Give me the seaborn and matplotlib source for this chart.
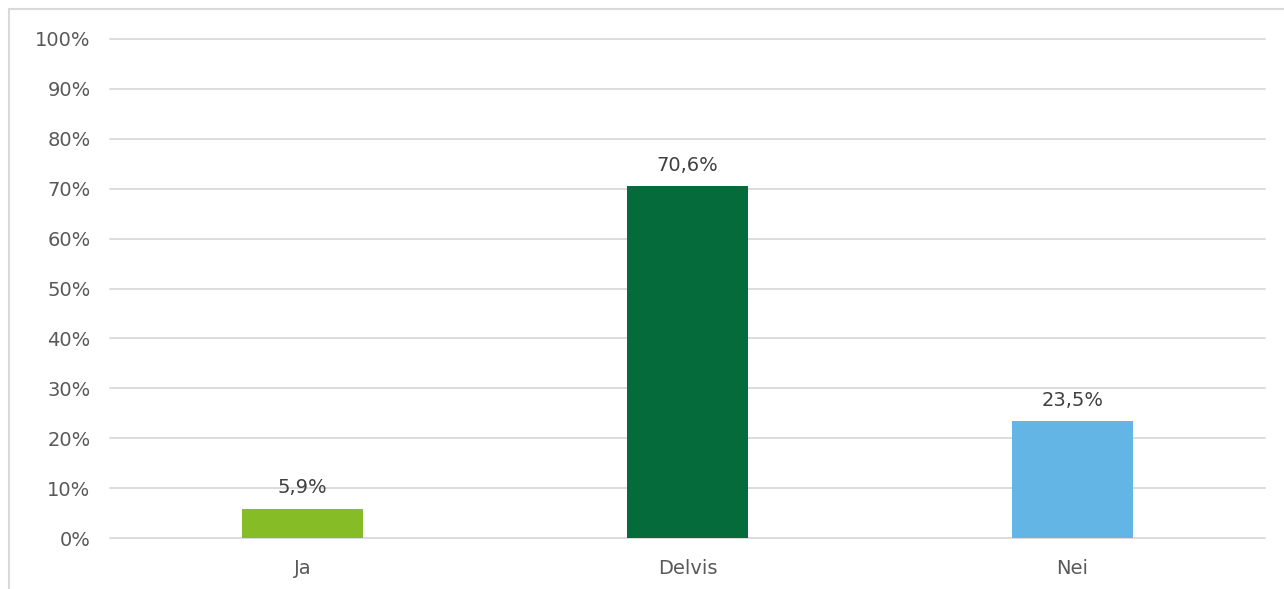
import matplotlib
matplotlib.use("Agg")
import matplotlib.pyplot as plt
import seaborn as sns
import pandas as pd
from matplotlib.patches import Rectangle

categories = ["Ja", "Delvis", "Nei"]
values = [5.9, 70.6, 23.5]
labels = ["5,9%", "70,6%", "23,5%"]
colors = ["#86BC25", "#056B3A", "#62B5E5"]
yticks = [0, 10, 20, 30, 40, 50, 60, 70, 80, 90, 100]

sns.set_theme(style="white")
plt.rcParams['font.family'] = ['DejaVu Sans']

fig = plt.figure(figsize=(12.84, 5.89), dpi=100)
ax = fig.add_axes([110/1284, 1-538/589, 1155/1284, (538-39)/589])

df = pd.DataFrame({"cat": categories, "val": values})
sns.barplot(data=df, x="cat", y="val", hue="cat", palette=colors, width=0.314,
            legend=False, ax=ax, saturation=1, linewidth=0)

ax.set_ylim(0, 100)
ax.set_xlim(-0.5, 2.5)
ax.set_yticks(yticks)
ax.set_yticklabels([f"{t}%" for t in yticks])
ax.grid(axis="y", color="#D9D9D9", linewidth=1.3)
for gl in ax.get_ygridlines():
    gl.set_clip_on(False)
ax.set_axisbelow(True)
for s in ax.spines.values():
    s.set_visible(False)
ax.set_xlabel("")
ax.set_ylabel("")
ax.tick_params(axis="both", length=0, labelsize=14, colors="#595959")
ax.tick_params(axis="y", pad=14)
ax.tick_params(axis="x", pad=15)

for i, (v, l) in enumerate(zip(values, labels)):
    ax.annotate(l, (i, v), xytext=(0, 8), textcoords="offset points",
                ha="center", va="bottom", fontsize=14, color="#404040")

fig.patches.append(Rectangle((9/1284, -0.1), 1.2, 1 - 9/589 + 0.1, transform=fig.transFigure,
                             fill=False, edgecolor="#D9D9D9", linewidth=1.5))

fig.savefig("out.png", dpi=100, facecolor="white")
